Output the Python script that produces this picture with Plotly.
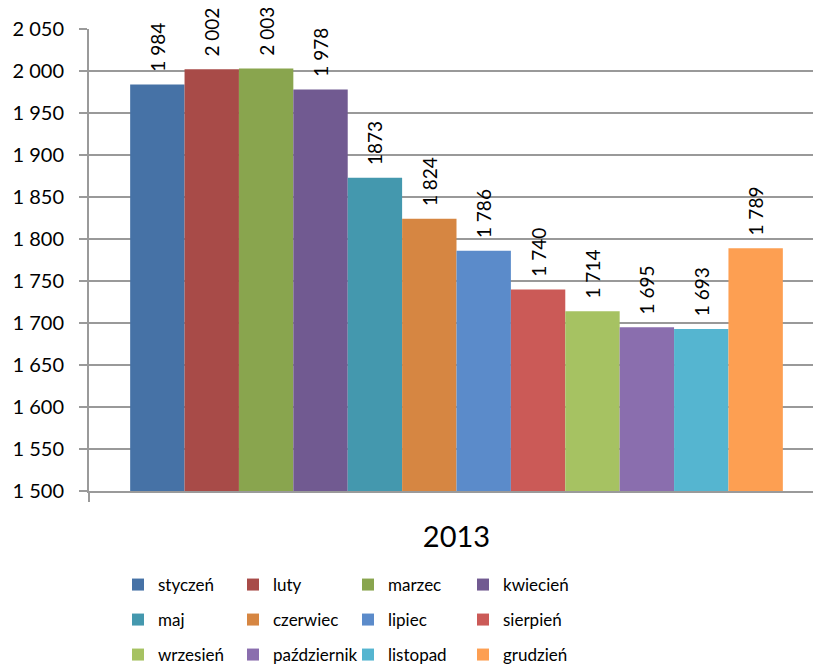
import plotly.graph_objects as go

months = ["styczeń", "luty", "marzec", "kwiecień", "maj", "czerwiec",
          "lipiec", "sierpień", "wrzesień", "październik", "listopad", "grudzień"]
values = [1984, 2002, 2003, 1978, 1873, 1824, 1786, 1740, 1714, 1695, 1693, 1789]
labels = ["1 984", "2 002", "2 003", "1 978", "1873", "1 824", "1 786", "1 740",
          "1 714", "1 695", "1 693", "1 789"]
colors = ["#4672A6", "#A84B48", "#89A54E", "#715A91", "#4498AE", "#D68642",
          "#5B8BCA", "#CB5A57", "#A6C262", "#8A6EAE", "#55B5D0", "#FD9F52"]
category = ["2013"]
ytickvals = [1500, 1550, 1600, 1650, 1700, 1750, 1800, 1850, 1900, 1950, 2000, 2050]
yticktext = ["1 500", "1 550", "1 600", "1 650", "1 700", "1 750", "1 800",
             "1 850", "1 900", "1 950", "2 000", "2 050"]

FONT = "Lato"
W, H = 816, 666
legend_rows_y = [577, 612, 647]
legend_x = 110

fig = go.Figure()
for i, (m, v, t, c) in enumerate(zip(months, values, labels, colors)):
    row = i // 4
    fig.add_trace(go.Bar(
        name=m, x=category, y=[v], base=0,
        text=["\u00a0\u00a0" + t], textposition="outside", textangle=-90,
        constraintext="none", cliponaxis=False,
        textfont=dict(family=FONT, size=19, color="#000000"),
        marker=dict(color=c, line=dict(width=0)),
        legend="legend" if row == 0 else f"legend{row+1}",
    ))

legend_common = dict(
    orientation="h", xref="container", yref="container",
    x=legend_x / W, xanchor="left", yanchor="middle",
    font=dict(family=FONT, size=17, color="#000000"),
    entrywidth=70, entrywidthmode="pixels", itemwidth=30,
    bgcolor="rgba(0,0,0,0)", traceorder="normal",
)

fig.update_layout(
    width=W, height=H,
    margin=dict(l=81, r=0, t=21, b=183, autoexpand=False),
    paper_bgcolor="white", plot_bgcolor="white",
    barmode="group", bargap=0.112, bargroupgap=0,
    font=dict(family=FONT, color="#000000"),
    showlegend=True,
    legend=dict(legend_common, y=1 - legend_rows_y[0] / H),
    legend2=dict(legend_common, y=1 - legend_rows_y[1] / H),
    legend3=dict(legend_common, y=1 - legend_rows_y[2] / H),
    xaxis=dict(
        type="category", showgrid=False, showline=True, linecolor="#9a9a9a",
        linewidth=2, ticks="outside", tickson="boundaries", ticklen=9,
        tickcolor="#9a9a9a", tickwidth=2, ticklabelstandoff=19,
        tickfont=dict(family=FONT, size=29, color="#000000"),
    ),
    yaxis=dict(
        range=[1500, 2050], tickvals=ytickvals, ticktext=yticktext,
        showgrid=True, gridcolor="#999999", gridwidth=2,
        showline=True, linecolor="#9a9a9a", linewidth=2,
        ticks="outside", ticklen=8, tickcolor="#9a9a9a", tickwidth=2,
        ticklabelstandoff=11, zeroline=False,
        tickfont=dict(family=FONT, size=20, color="#000000"),
    ),
)

fig.write_html("out.html")
